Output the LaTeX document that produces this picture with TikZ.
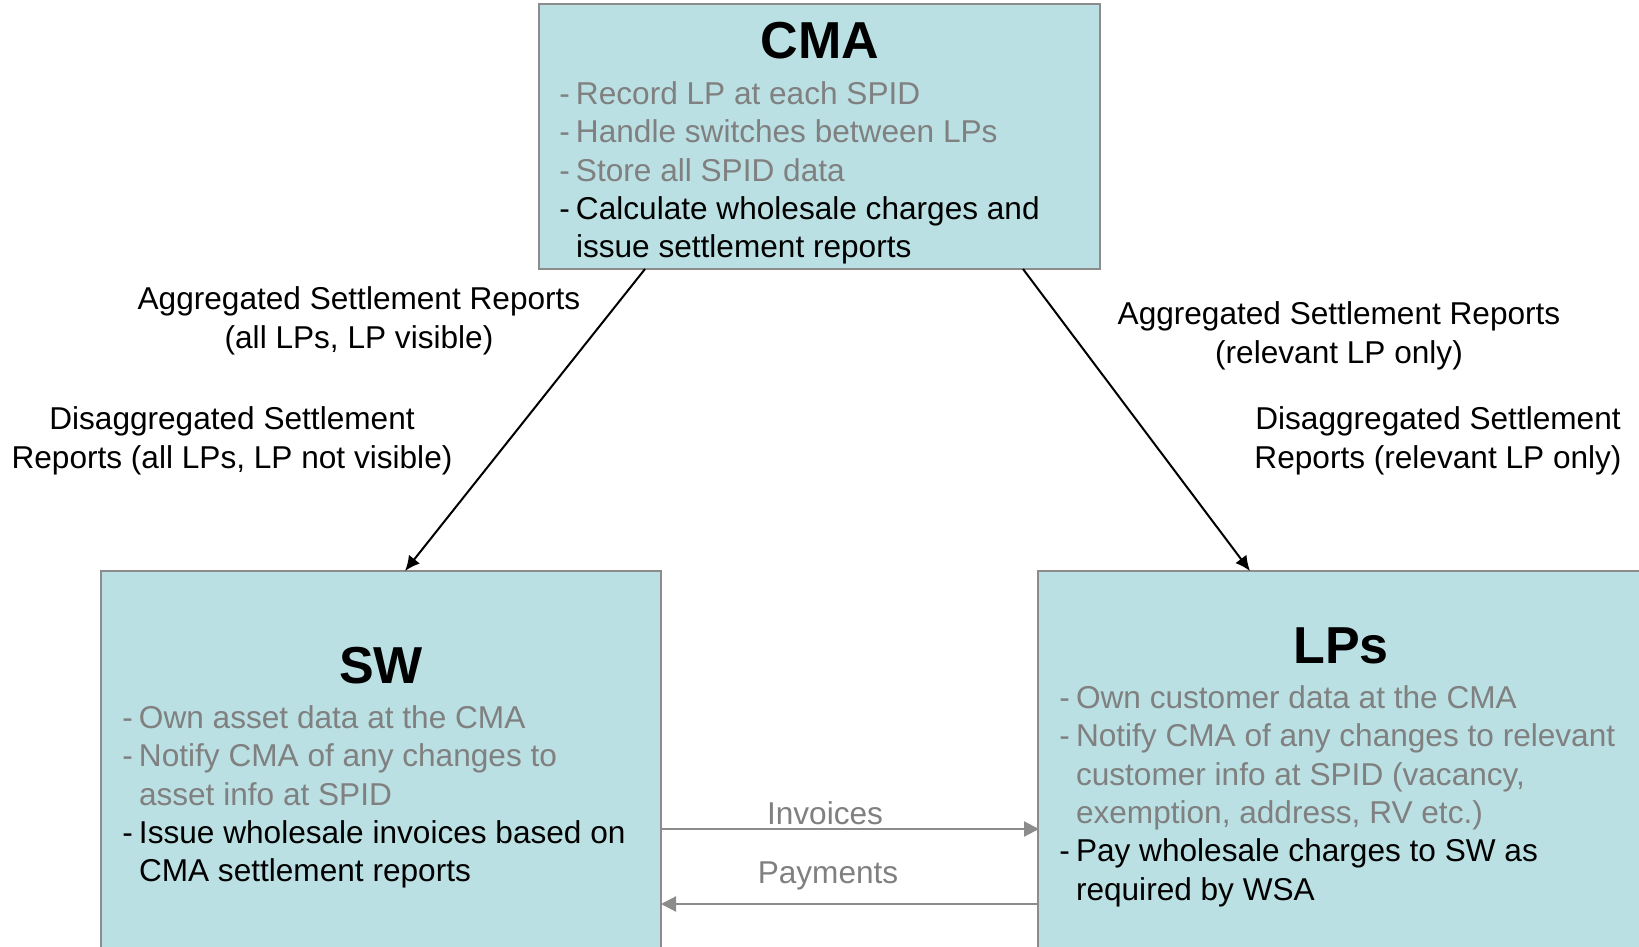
\documentclass[tikz,border=0pt]{standalone}
\usepackage{fontspec}
\setmainfont{Liberation Sans}
\usetikzlibrary{arrows.meta}

\definecolor{boxfill}{HTML}{BAE0E3}
\definecolor{boxline}{HTML}{8C8C8C}
\definecolor{dimtext}{HTML}{808080}

\tikzset{
	box/.style={draw=boxline, line width=0.75pt, fill=boxfill, inner sep=0pt},
	title/.style={font=\fontsize{26}{30}\selectfont\bfseries, inner sep=0pt},
	duties/.style={font=\fontsize{15.8}{19.2}\selectfont, align=left, anchor=north west, inner sep=0pt},
	flow/.style={line width=1pt, -{Latex[length=7.5pt,width=7pt]}},
	money/.style={draw=boxline, line width=1.1pt, -{Triangle[length=7.5pt,width=7.5pt]}},
	lbl/.style={font=\fontsize{15.8}{19.2}\selectfont, align=center, inner sep=0pt}
}
\newcommand{\bul}{\makebox[8.3pt][l]{-}}
\newcommand{\cont}{\hspace*{8.3pt}}

\begin{document}
\begin{tikzpicture}[x=0.5pt,y=-0.5pt]
		\useasboundingbox (0,0) rectangle (1639,947);

		% boxes
		\node[box, minimum width=280.5pt, minimum height=132.5pt] (cma) at (819.5,136.5) {};
		\node[box, minimum width=280pt, minimum height=195pt] (sw) at (381,766) {};
		\node[box, minimum width=306pt, minimum height=195pt] (lps) at (1344,766) {};

		% titles
		\node[title] (cmaname) at (820,41) {CMA};
		\node[title] (swname) at (381,665.5) {SW};
		\node[title] (lpsname) at (1341,646) {LPs};

		% duties
		\node[duties] (cmaduty) at (559,81) {\color{dimtext}\bul Record LP at each SPID\\
			\color{dimtext}\bul Handle switches between LPs\\
			\color{dimtext}\bul Store all SPID data\\
			\bul Calculate wholesale charges and\\
			\cont issue settlement reports};
		\node[duties] (swduty) at (122,705) {\color{dimtext}\bul Own asset data at the CMA\\
			\color{dimtext}\bul Notify CMA of any changes to\\
			\color{dimtext}\cont asset info at SPID\\
			\bul Issue wholesale invoices based on\\
			\cont CMA settlement reports};
		\node[duties] (lpsduty) at (1059,685) {\color{dimtext}\bul Own customer data at the CMA\\
			\color{dimtext}\bul Notify CMA of any changes to relevant\\
			\color{dimtext}\cont customer info at SPID (vacancy,\\
			\color{dimtext}\cont exemption, address, RV etc.)\\
			\bul Pay wholesale charges to SW as\\
			\cont required by WSA};

		% report flows
		\coordinate (cmaleft) at (645,269);
		\coordinate (cmaright) at (1023,269);
		\coordinate (swtop) at (405,571);
		\coordinate (lpstop) at (1250,571);
		\draw[flow] (cmaleft) -- (swtop);
		\draw[flow] (cmaright) -- (lpstop);

		%report names
		\node[lbl] (aggsw) at (359,321) {Aggregated Settlement Reports\\(all LPs, LP visible)};
		\node[lbl] (disaggsw) at (232,441) {Disaggregated Settlement\\Reports (all LPs, LP not visible)};
		\node[lbl] (agglps) at (1339,336) {Aggregated Settlement Reports\\(relevant LP only)};
		\node[lbl] (disagglps) at (1438,441) {Disaggregated Settlement\\Reports (relevant LP only)};

		% invoices and payments
		\coordinate (swinv) at (661,829);
		\coordinate (lpsinv) at (1039,829);
		\coordinate (swpay) at (661,904);
		\coordinate (lpspay) at (1039,904);
		\draw[money] (swinv) -- (lpsinv);
		\draw[money] (lpspay) -- (swpay);
		\node[lbl, text=dimtext] (inv) at (825,813) {Invoices};
		\node[lbl, text=dimtext] (pay) at (828,876) {Payments};
	\end{tikzpicture}
\end{document}
